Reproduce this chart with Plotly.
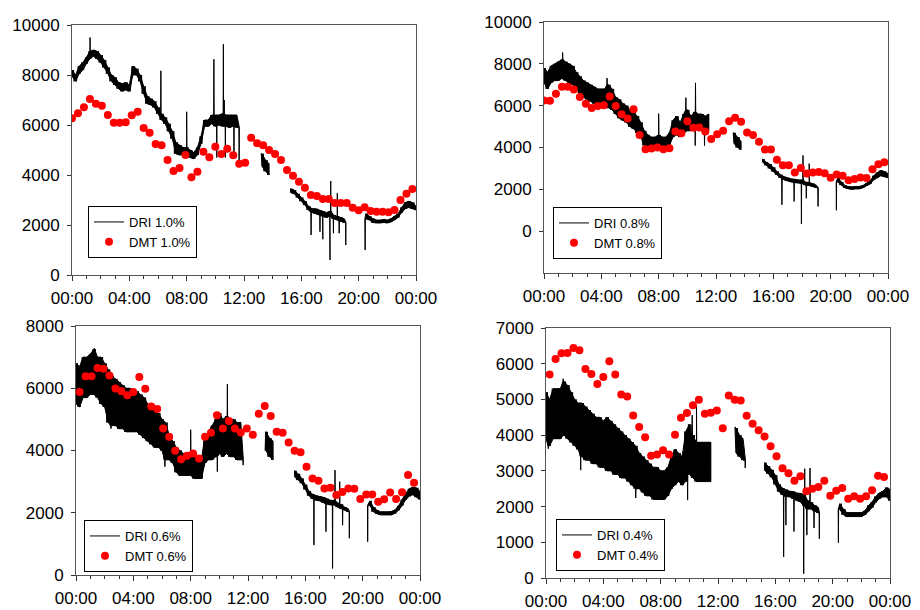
import plotly.graph_objects as go

# ---------------- time axis ----------------
GRID_STEP = 0.25                      # hours between envelope samples
GRID = [k * GRID_STEP for k in range(97)]
TICK_HOURS = [0, 4, 8, 12, 16, 20, 24]
TICK_TEXT = ["00:00", "04:00", "08:00", "12:00", "16:00", "20:00", "00:00"]

N = None
# ---------------- Panel 1 : 1.0% ----------------
dri1_lo = [7950, 7750, 8050, 8200, 8450, 8650, 8750, 8650,
           8500, 8300, 8050, 7750, 7600, 7450, 7350, 7400,
           7350, 8000, 8000, 7750, 7250, 6850, 6800, 6700,
           6450, 6200, 6050, 5750, 5450, 4850, 4800, 4800,
           4800, 4700, 4650, 4800, 5250, 5950, 5950, 6050,
           5950, 6000, 5950, 5950, 5900, 5950, 5900, N,
           N, N, N, N, N, 4350, 4150, 4000,
           N, N, N, N, N, 3300, 3250, 3100,
           2950, 2800, 2600, 2500, 2450, 2400, 2350, 2300,
           2350, 2250, 2200, 2150, 2100, N, N, N,
           N, N, 2250, 2200, 2100, 2080, 2080, 2100,
           2080, 2120, 2200, 2300, 2500, 2650, 2700, 2650,
           2600]
dri1_hi = [8200, 8000, 8350, 8500, 8700, 8950, 9000, 8950,
           8800, 8600, 8300, 8000, 7900, 7700, 7650, 7700,
           7600, 8350, 8250, 8000, 7550, 7150, 7050, 6950,
           6700, 6450, 6300, 6050, 5750, 5300, 5200, 5100,
           5100, 5000, 4900, 5100, 5550, 6200, 6200, 6400,
           6400, 6400, 6450, 6400, 6400, 6400, 6400, N,
           N, N, N, N, N, 4850, 4600, 4450,
           N, N, N, N, N, 3450, 3400, 3250,
           3100, 2950, 2750, 2650, 2650, 2600, 2550, 2500,
           2550, 2400, 2350, 2300, 2250, N, N, N,
           N, N, 2450, 2350, 2250, 2200, 2200, 2220,
           2200, 2250, 2350, 2450, 2700, 2900, 2950, 2900,
           2750]
dri1_spike_t = [1.26, 6.2, 8.0, 9.9, 10.1, 10.56, 10.62, 10.7, 11.3, 11.66,
                13.22, 16.68, 17.3, 17.5, 18.0, 18.05, 18.24, 18.51, 18.64, 19.1, 20.45]
dri1_spike_v = [9500, 8170, 6530, 8630, 4700, 9230, 7000, 4700, 4650, 4600,
                4870, 1600, 1730, 1430, 600, 3760, 1670, 3270, 1670, 1200, 1000]
dmt1 = [6270, 6470, 6710, 7040, 6850, 6770, 6400, 6090, 6090, 6110,
        6390, 6530, 5880, 5690, 5240, 5190, 4600, 4160, 4280, 4800,
        3910, 4130, 4930, 4710, 5130, 4840, 5050, 4790, 4450, 4490,
        5490, 5270, 5190, 5000, 4840, 4600, 4200, 3970, 3730, 3490,
        3200, 3160, 3040, 3040, 2880, 2880, 2880, 2690, 2590, 2710,
        2560, 2530, 2530, 2510, 2600, 3000, 3250, 3440]

# ---------------- Panel 2 : 0.8% ----------------
dri2_lo = [7100, 6800, 7100, 7200, 7200, 7300, 7200, 7100,
           7000, 6800, 6600, 6400, 6300, 6200, 6100, 6000,
           6000, 5900, 5900, 5800, 5600, 5400, 5300, 5200,
           5000, 4900, 4700, 4500, 4100, 4000, 4000, 4000,
           4000, 4000, 4000, 4100, 4500, 4600, 4500, 4700,
           4800, 4800, 4900, 4900, 4800, 4900, 4800, N,
           N, N, N, N, N, 4200, 4000, 3900,
           N, N, N, N, N, 3300, 3150, 3000,
           2850, 2700, 2550, 2450, 2400, 2350, 2320, 2300,
           2280, 2200, 2180, 2130, 2080, N, N, N,
           N, N, 2350, 2200, 2070, 2020, 2000, 2020,
           2020, 2070, 2170, 2250, 2450, 2550, 2650, 2600,
           2550]
dri2_hi = [7800, 7600, 7900, 8000, 8100, 8200, 8100, 8000,
           7900, 7600, 7400, 7200, 7100, 7000, 6900, 6800,
           6800, 6800, 7000, 6800, 6400, 6300, 6100, 6000,
           5800, 5700, 5500, 5200, 4800, 4600, 4500, 4500,
           4600, 4500, 4500, 4700, 5300, 5500, 5200, 5600,
           5800, 5500, 5700, 5600, 5600, 5500, 5600, N,
           N, N, N, N, N, 4700, 4500, 4300,
           N, N, N, N, N, 3450, 3300, 3200,
           3050, 2850, 2700, 2600, 2550, 2500, 2480, 2450,
           2450, 2350, 2320, 2270, 2200, N, N, N,
           N, N, 2550, 2350, 2180, 2130, 2120, 2130,
           2140, 2180, 2300, 2400, 2650, 2800, 2900, 2850,
           2750]
dri2_spike_t = [1.3, 4.4, 8.0, 9.9, 10.55, 10.57, 11.2, 13.22,
                16.6, 17.45, 17.96, 18.07, 18.3, 18.5, 19.12, 20.4]
dri2_spike_v = [8540, 7320, 5620, 6380, 4090, 7090, 4090, 4720,
                1260, 1420, 350, 3620, 1570, 3230, 1180, 1000]
dmt2 = [6250, 6240, 6570, 6900, 6900, 6770, 6410, 6090, 5890, 5980,
        6020, 6440, 5980, 5590, 5390, 5830, 4600, 3920, 3950, 4000,
        3920, 3970, 4760, 4680, 5260, 4940, 4960, 4760, 4410, 4630,
        4800, 5260, 5420, 5230, 4720, 4600, 4270, 3910, 3910, 3420,
        3150, 3150, 2800, 3020, 2760, 2800, 2830, 2770, 2550, 2710,
        2650, 2440, 2490, 2570, 2540, 2960, 3200, 3290]

# ---------------- Panel 3 : 0.6% ----------------
dri3_lo = [5500, 5400, 5700, 5700, 5800, 5800, 5700, 5500,
           5400, 4900, 4800, 4800, 4700, 4700, 4600, 4600,
           4600, 4600, 4500, 4400, 4300, 4200, 4100, 4100,
           4000, 3700, 3700, 3600, 3300, 3200, 3200, 3200,
           3200, 3100, 3100, 3100, 3600, 3700, 3700, 3800,
           3900, 3800, 3900, 3800, 3800, 3700, 3700, N,
           N, N, N, N, N, 4000, 3800, 3700,
           N, N, N, N, N, 3150, 3050, 2950,
           2750, 2550, 2450, 2400, 2380, 2330, 2280, 2250,
           2250, 2180, 2130, 2080, 2030, N, N, N,
           N, N, 2230, 2030, 1970, 1930, 1930, 1930,
           1930, 1980, 2080, 2230, 2420, 2530, 2580, 2500,
           2430]
dri3_hi = [6800, 6700, 7000, 7000, 7100, 7250, 7000, 7000,
           6800, 6600, 6400, 6300, 6200, 6100, 6000, 6000,
           5900, 5900, 5800, 5700, 5500, 5400, 5300, 5200,
           5000, 4900, 4500, 4300, 4100, 4000, 3900, 3900,
           3900, 3800, 3800, 3700, 4500, 4600, 4800, 5000,
           5200, 5000, 5100, 5000, 5000, 4900, 4900, N,
           N, N, N, N, N, 4600, 4400, 4300,
           N, N, N, N, N, 3350, 3250, 3100,
           2900, 2700, 2600, 2550, 2520, 2500, 2450, 2400,
           2400, 2320, 2270, 2180, 2130, N, N, N,
           N, N, 2380, 2180, 2080, 2030, 2030, 2030,
           2040, 2090, 2220, 2420, 2620, 2770, 2820, 2800,
           2680]
dri3_spike_t = [1.28, 2.44, 6.2, 8.0, 9.86, 10.56, 11.66, 13.22,
                16.6, 17.44, 17.9, 18.07, 18.4, 18.6, 19.07, 20.35]
dri3_spike_v = [7290, 4700, 3480, 4670, 3320, 6130, 3530, 4600,
                960, 1390, 210, 3370, 3000, 1600, 1180, 1070]
dmt3 = [5880, 6385, 6385, 6650, 6630, 6410, 5990, 5900, 5775, 5880,
        6360, 5980, 5410, 5330, 4705, 4440, 3990, 3720, 3830, 3900,
        3740, 4440, 4570, 5130, 4705, 4950, 4705, 4580, 4705, 4510,
        5180, 5430, 5110, 4600, 4570, 4260, 3990, 3940, 3480, 3100,
        3030, 2780, 2800, 2570, 2670, 2780, 2770, 2440, 2590, 2590,
        2350, 2430, 2650, 2440, 2660, 3210, 2960]

# ---------------- Panel 4 : 0.4% ----------------
dri4_lo = [3900, 3700, 3900, 3900, 3900, 4000, 3900, 3800,
           3700, 3600, 3400, 3300, 3300, 3200, 3200, 3100,
           3100, 3000, 3000, 2900, 2900, 2800, 2800, 2700,
           2600, 2500, 2500, 2400, 2300, 2300, 2200, 2200,
           2200, 2200, 2300, 2500, 2600, 2700, 2600, 2700,
           2900, 2800, 2700, 2700, 2700, 2700, 2700, N,
           N, N, N, N, N, 3500, 3400, 3300,
           N, N, N, N, N, 3020, 2920, 2820,
           2620, 2420, 2330, 2280, 2270, 2220, 2170, 2130,
           2030, 1930, 1930, 1870, 1820, N, N, N,
           N, N, 1920, 1770, 1720, 1720, 1720, 1720,
           1720, 1770, 1870, 1970, 2120, 2220, 2270, 2270,
           2170]
dri4_hi = [5200, 5000, 5300, 5300, 5300, 5500, 5400, 5200,
           5000, 4900, 4900, 4800, 4700, 4600, 4500, 4500,
           4400, 4500, 4400, 4300, 4200, 4100, 4000, 3900,
           3800, 3700, 3500, 3400, 3300, 3200, 3100, 3100,
           3000, 3000, 3100, 3400, 3600, 3500, 3400, 4100,
           4300, 4000, 3800, 3800, 3800, 3800, 3800, N,
           N, N, N, N, N, 4200, 4000, 3900,
           N, N, N, N, N, 3230, 3130, 3030,
           2880, 2620, 2520, 2470, 2430, 2420, 2380, 2370,
           2320, 2170, 2120, 2030, 1980, N, N, N,
           N, N, 2080, 1930, 1830, 1830, 1830, 1830,
           1830, 1880, 2030, 2130, 2280, 2380, 2430, 2530,
           2480]
dri4_spike_t = [0.16, 1.2, 2.42, 6.26, 9.88, 10.2, 10.5, 13.2, 13.9,
                16.58, 16.74, 17.3, 17.98, 18.05, 18.2, 18.42, 18.7, 19.07, 20.4]
dri4_spike_v = [3620, 5580, 3020, 2240, 2180, 4560, 4840, 4230, 3080,
                590, 1480, 1300, 120, 3060, 1200, 3080, 1400, 1100, 990]
dmt4 = [5700, 6130, 6290, 6300, 6440, 6380, 5850, 5710, 5430, 5630,
        6070, 5700, 5140, 5080, 4550, 4230, 3940, 3420, 3460, 3580,
        3460, 4010, 4490, 4620, 4840, 4990, 4600, 4630, 4690, 4190,
        5110, 4990, 4970, 4540, 4320, 4140, 3960, 3690, 3410, 3070,
        2930, 2720, 2850, 2430, 2500, 2550, 2720, 2300, 2440, 2520,
        2220, 2290, 2220, 2290, 2460, 2860, 2830]

DMT_STEP_MIN = 25
DMT_START_MIN = [0, 0, 15, 15]
labels = ["1.0%", "0.8%", "0.6%", "0.4%"]

EPS = 0.015   # half-width (hours) of a single-reading spike
SUB = 3       # low/high swings drawn per envelope cell


def segments_of(lo):
    segs, cur = [], []
    for k in range(len(GRID)):
        if lo[k] is None:
            if cur:
                segs.append(cur)
                cur = []
        else:
            cur.append(k)
    if cur:
        segs.append(cur)
    return segs


def dri_rings(lo, hi, st, sv):
    """One closed outline per recorded DRI segment (low edge forward,
    high edge back), with single-reading spikes placed on the edges."""
    rings = []
    for seg in segments_of(lo):
        t0, t1 = GRID[seg[0]], GRID[seg[-1]]
        low = [(GRID[k], lo[k]) for k in seg]
        high = [(GRID[k], hi[k]) for k in seg]
        for ts, v in zip(st, sv):
            if ts < t0 - 0.3 or ts > t1 + 0.3:
                continue
            k = min(seg, key=lambda kk: abs(GRID[kk] - ts))
            if v > hi[k]:
                high += [(ts - EPS, hi[k]), (ts, v), (ts + EPS, hi[k])]
            else:
                low += [(ts - EPS, lo[k]), (ts, v), (ts + EPS, lo[k])]
        low.sort()
        high.sort(reverse=True)
        ring = low + high + [low[0]]
        rings.append(([p[0] for p in ring], [p[1] for p in ring]))
    return rings


def dri_swing(lo, hi):
    """The DRI reading swinging between the low and high envelope in each cell."""
    xs, ys = [], []
    for seg in segments_of(lo):
        t0, t1 = GRID[seg[0]], GRID[seg[-1]]
        for k in seg:
            for m in range(2 * SUB):
                t = GRID[k] - GRID_STEP / 2 + GRID_STEP * (m + 0.5) / (2 * SUB)
                if t0 <= t <= t1:
                    xs.append(t)
                    ys.append(lo[k] if m % 2 == 0 else hi[k])
        xs.append(None)
        ys.append(None)
    return xs, ys


panels = [
    (dri1_lo, dri1_hi, dri1_spike_t, dri1_spike_v, dmt1),
    (dri2_lo, dri2_hi, dri2_spike_t, dri2_spike_v, dmt2),
    (dri3_lo, dri3_hi, dri3_spike_t, dri3_spike_v, dmt3),
    (dri4_lo, dri4_hi, dri4_spike_t, dri4_spike_v, dmt4),
]

PAGE_MARGIN = 8            # default body margin of the HTML page
W, H = 920 - PAGE_MARGIN, 610 - PAGE_MARGIN
# plot-area boxes in window pixels: (left, right, top, bottom)
boxes = [(72, 416, 25, 275), (544, 888, 22, 273), (76, 420, 326, 575), (546, 890, 328, 578)]
yranges = [[0, 10000], [-2000, 10000], [0, 8000], [0, 7000]]
ytickvals = [[0, 2000, 4000, 6000, 8000, 10000], [0, 2000, 4000, 6000, 8000, 10000],
             [0, 2000, 4000, 6000, 8000], [0, 1000, 2000, 3000, 4000, 5000, 6000, 7000]]
legend_pos = [(88, 206), (553, 207), (84, 520), (556, 519)]

FONT = "Arial, Liberation Sans, sans-serif"
fig = go.Figure()
layout = dict(width=W, height=H, margin=dict(l=0, r=0, t=0, b=0, autoexpand=False),
              paper_bgcolor="white", plot_bgcolor="white",
              font=dict(family=FONT, color="black"), showlegend=True)

for i, (lo, hi, st, sv, dmt) in enumerate(panels):
    n = i + 1
    xs = "x" if n == 1 else f"x{n}"
    ys = "y" if n == 1 else f"y{n}"
    lg = "legend" if n == 1 else f"legend{n}"
    for rx, ry in dri_rings(lo, hi, st, sv):
        fig.add_trace(go.Scatter(x=rx, y=ry, mode="lines", fill="toself", fillcolor="black",
                                 line=dict(color="black", width=1, simplify=False),
                                 legendgroup=f"dri{n}", showlegend=False, hoverinfo="skip",
                                 xaxis=xs, yaxis=ys, legend=lg))
    sx, sy = dri_swing(lo, hi)
    fig.add_trace(go.Scatter(x=sx, y=sy, mode="lines", name=f"DRI {labels[i]}",
                             legendgroup=f"dri{n}", connectgaps=False,
                             line=dict(color="black", width=1, simplify=False),
                             xaxis=xs, yaxis=ys, legend=lg))
    dmt_t = [(DMT_START_MIN[i] + DMT_STEP_MIN * j) / 60 for j in range(len(dmt))]
    fig.add_trace(go.Scatter(x=dmt_t, y=dmt, mode="markers", name=f"DMT {labels[i]}",
                             marker=dict(color="#ff0000", size=8, line=dict(width=0)),
                             xaxis=xs, yaxis=ys, legend=lg))
    l, r, t, b = [v - PAGE_MARGIN for v in boxes[i]]
    xa = dict(domain=[l / W, r / W], range=[0, 24], anchor=ys, automargin=False,
              tickmode="array", tickvals=TICK_HOURS, ticktext=TICK_TEXT,
              ticks="outside", ticklen=5, tickcolor="#333", tickwidth=1,
              ticklabelstandoff=3,
              showline=True, linecolor="#555", linewidth=1, mirror=True,
              showgrid=False, zeroline=False,
              tickfont=dict(size=17, family=FONT, color="black"),
              minor=dict(tickmode="linear", tick0=0, dtick=1, ticks="outside",
                         ticklen=3, tickcolor="#333", showgrid=False))
    ya = dict(domain=[1 - b / H, 1 - t / H], range=yranges[i], anchor=xs, automargin=False,
              tickmode="array", tickvals=ytickvals[i],
              ticktext=[str(v) for v in ytickvals[i]],
              ticks="outside", ticklen=4, tickcolor="#333",
              ticklabelstandoff=4,
              showline=True, linecolor="#555", linewidth=1, mirror=True,
              showgrid=False, zeroline=False,
              tickfont=dict(size=17, family=FONT, color="black"))
    layout["xaxis" if n == 1 else f"xaxis{n}"] = xa
    layout["yaxis" if n == 1 else f"yaxis{n}"] = ya
    lx, ly = legend_pos[i]
    layout[lg] = dict(x=(lx - PAGE_MARGIN) / W, y=1 - (ly - PAGE_MARGIN) / H,
                      xanchor="left", yanchor="top",
                      bgcolor="white", bordercolor="black", borderwidth=1,
                      font=dict(size=13, family=FONT, color="black"),
                      tracegroupgap=0, itemwidth=30)

fig.update_layout(**layout)
fig.write_html("out.html")
